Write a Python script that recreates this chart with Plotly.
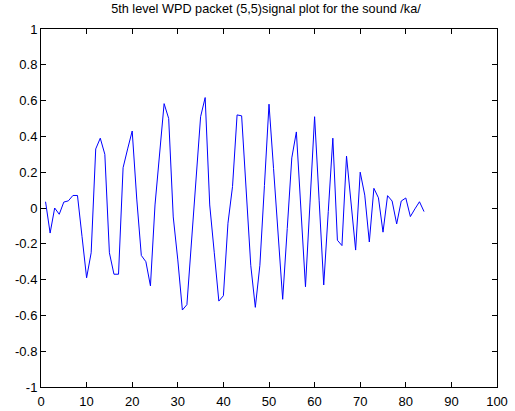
import plotly.graph_objects as go

# sample index (1..84) and WPD packet (5,5) coefficients
sample_index = list(range(1, 85))
signal_values = [
    0.035, -0.14, 0.0, -0.035, 0.033, 0.04, 0.07, 0.07, -0.16, -0.39,
    -0.25, 0.33, 0.39, 0.30, -0.25, -0.37, -0.37, 0.225, 0.33, 0.43,
    0.05, -0.265, -0.30, -0.435, 0.017, 0.30, 0.583, 0.50, -0.05, -0.29,
    -0.57, -0.54, -0.19, 0.16, 0.51, 0.617, 0.017, -0.25, -0.52, -0.49,
    -0.085, 0.12, 0.52, 0.515, 0.10, -0.32, -0.555, -0.32, 0.126, 0.58,
    0.22, -0.145, -0.51, -0.115, 0.28, 0.425, -0.005, -0.44, 0.033, 0.51,
    0.04, -0.43, -0.02, 0.39, -0.18, -0.21, 0.29, 0.03, -0.235, 0.20,
    0.072, -0.19, 0.11, 0.057, -0.135, 0.069, 0.039, -0.089, 0.039, 0.056,
    -0.048, -0.005, 0.035, -0.02,
]

x_tick_values = [0, 10, 20, 30, 40, 50, 60, 70, 80, 90, 100]
x_tick_labels = ["0", "10", "20", "30", "40", "50", "60", "70", "80", "90", "100"]
y_tick_values = [-1, -0.8, -0.6, -0.4, -0.2, 0, 0.2, 0.4, 0.6, 0.8, 1]
y_tick_labels = ["-1", "-0.8", "-0.6", "-0.4", "-0.2", "0", "0.2", "0.4", "0.6", "0.8", "1"]

title_text = "5th level WPD packet (5,5)signal plot for the sound /ka/"

font_family = "Liberation Sans, Arial, Helvetica, sans-serif"

fig = go.Figure()
fig.add_trace(go.Scatter(
    x=sample_index, y=signal_values, mode="lines",
    line=dict(color="#0000FF", width=1),
    hoverinfo="skip", showlegend=False,
))

axis_common = dict(
    showgrid=False, zeroline=False, showline=True, linecolor="black", linewidth=1,
    mirror="ticks", ticks="inside", ticklen=5, tickcolor="black", tickwidth=1,
    tickfont=dict(family=font_family, size=13, color="black"),
    automargin=False,
)

fig.update_layout(
    width=515, height=411,
    margin=dict(l=41, r=18, t=29, b=24),
    paper_bgcolor="white", plot_bgcolor="white",
    title=dict(text=title_text, x=0.5165, xanchor="center", y=0.978, yanchor="middle",
               font=dict(family=font_family, size=12.7, color="black")),
    xaxis=dict(range=[0, 100], tickvals=x_tick_values, ticktext=x_tick_labels,
               ticklabelstandoff=2, **axis_common),
    yaxis=dict(range=[-1, 1], tickvals=y_tick_values, ticktext=y_tick_labels, **axis_common),
)

fig.write_html("out.html")
